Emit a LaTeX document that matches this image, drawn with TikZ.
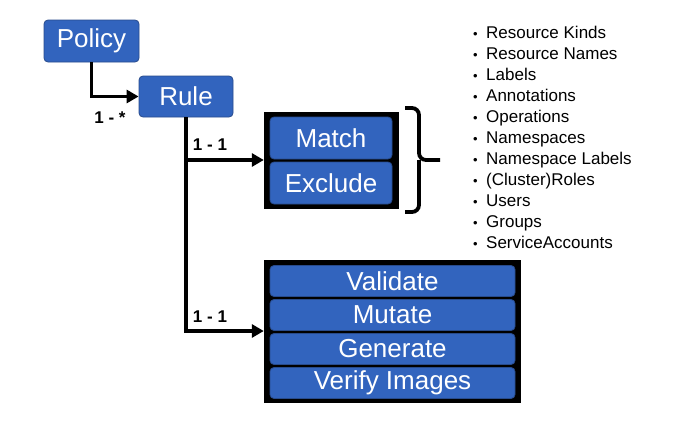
\documentclass[tikz,border=0pt]{standalone}
\usepackage{fontspec}
\setmainfont{Liberation Sans}
\usetikzlibrary{arrows.meta}
\definecolor{boxblue}{RGB}{50,100,190}
\definecolor{boxedge}{RGB}{40,75,140}
\tikzset{
  bluebox/.style={draw=boxedge, line width=0.8pt, fill=boxblue, rounded corners=4pt, text=white, inner sep=0pt},
  groupbox/.style={fill=black, draw=black, inner sep=0pt},
  conn/.style={line width=3.8pt, -{Triangle[length=12pt,width=13pt]}, line join=miter},
  mult/.style={font=\bfseries\fontsize{17}{19}\selectfont},
  listitem/.style={anchor=base west, inner sep=0pt, font=\fontsize{17}{19}\selectfont},
  bigtext/.style={font=\fontsize{26}{29}\selectfont},
}
\begin{document}
\begin{tikzpicture}[x=1pt,y=-1pt]
\useasboundingbox (0,0) rectangle (682,442);
% top boxes
\node[bluebox, bigtext, minimum width=95pt, minimum height=42pt] (policy) at (91.5,41) {Policy};
\node[bluebox, bigtext, minimum width=94pt, minimum height=41pt] (rule) at (186,96.5) {Rule};
% match group
\node[groupbox, minimum width=134pt, minimum height=96pt] (mg) at (331,160) {};
\node[bluebox, bigtext, minimum width=122pt, minimum height=42pt] (match) at (331,138) {Match};
\node[bluebox, bigtext, minimum width=122pt, minimum height=42pt] (exclude) at (331,183) {Exclude};
% action group
\node[groupbox, minimum width=256pt, minimum height=142pt] (ag) at (392,331) {};
\node[bluebox, bigtext, minimum width=245pt, minimum height=31pt] (validate) at (392.5,281) {Validate};
\node[bluebox, bigtext, minimum width=245pt, minimum height=31pt] (mutate) at (392.5,315) {Mutate};
\node[bluebox, bigtext, minimum width=245pt, minimum height=31pt] (generate) at (392.5,349) {Generate};
\node[bluebox, bigtext, minimum width=245pt, minimum height=31pt] (verify) at (392.5,383) {Verify Images};
% connectors
\draw[conn] (policy.south) |- (rule.west);
\draw[conn] (rule.south) |- (mg.west);
\draw[conn] (rule.south) |- (ag.west);
% multiplicities
\node[mult] (m1) at (110,118) {1 - *};
\node[mult] (m2) at (210,145) {1 - 1};
\node[mult] (m3) at (210,317) {1 - 1};
% brace
\draw[line width=3.8pt, rounded corners=7pt] (405,108) -- (419,108) -- (419,160) -- (440,160);
\draw[line width=3.8pt, rounded corners=7pt] (405,212) -- (419,212) -- (419,160);
% bullet list
\foreach \t [count=\i from 0] in {Resource Kinds,Resource Names,Labels,Annotations,Operations,Namespaces,Namespace Labels,(Cluster)Roles,Users,Groups,ServiceAccounts}{
  \node[inner sep=0pt, anchor=base west, font=\fontsize{13}{15}\selectfont] (b\i) at (473,{38+21*\i}) {•};
  \node[listitem] (li\i) at (486,{38+21*\i}) {\t};
}
\end{tikzpicture}
\end{document}
